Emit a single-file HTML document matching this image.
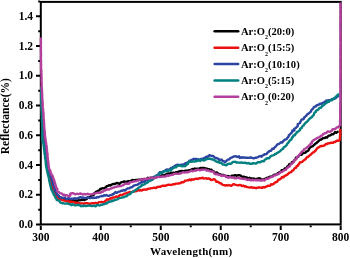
<!DOCTYPE html>
<html><head><meta charset="utf-8"><style>
html,body{margin:0;padding:0;background:#fff;width:350px;height:258px;overflow:hidden}
svg{display:block;filter:blur(0.3px)}
</style></head><body>
<svg width="350" height="258" viewBox="0 0 350 258">
<rect x="40.8" y="1.9" width="299.9" height="222.5" fill="none" stroke="#000" stroke-width="2"/>
<path d="M36.0,224.50H40 M38.2,209.63H40 M36.0,194.77H40 M38.2,179.90H40 M36.0,165.03H40 M38.2,150.17H40 M36.0,135.30H40 M38.2,120.43H40 M36.0,105.56H40 M38.2,90.70H40 M36.0,75.83H40 M38.2,60.96H40 M36.0,46.10H40 M38.2,31.23H40 M36.0,16.36H40 M38.2,1.50H40 M40.80,225.5V229.9 M70.79,225.5V227.3 M100.78,225.5V229.9 M130.77,225.5V227.3 M160.76,225.5V229.9 M190.75,225.5V227.3 M220.74,225.5V229.9 M250.73,225.5V227.3 M280.72,225.5V229.9 M310.71,225.5V227.3 M340.70,225.5V229.9" stroke="#000" stroke-width="2" fill="none"/>
<g font-family="Liberation Serif, serif" font-weight="bold" font-size="11.5" fill="#000"><text x="33" y="228.1" text-anchor="end">0.0</text><text x="33" y="198.4" text-anchor="end">0.2</text><text x="33" y="168.6" text-anchor="end">0.4</text><text x="33" y="138.9" text-anchor="end">0.6</text><text x="33" y="109.2" text-anchor="end">0.8</text><text x="33" y="79.4" text-anchor="end">1.0</text><text x="33" y="49.7" text-anchor="end">1.2</text><text x="33" y="20.0" text-anchor="end">1.4</text><text x="40.8" y="240.5" text-anchor="middle">300</text><text x="100.8" y="240.5" text-anchor="middle">400</text><text x="160.8" y="240.5" text-anchor="middle">500</text><text x="220.7" y="240.5" text-anchor="middle">600</text><text x="280.7" y="240.5" text-anchor="middle">700</text><text x="340.7" y="240.5" text-anchor="middle">800</text></g>
<text x="191.2" y="255" text-anchor="middle" font-family="Liberation Serif, serif" font-weight="bold" font-size="11" letter-spacing="0.3">Wavelength(nm)</text>
<text transform="translate(9.2,116.2) rotate(-90)" text-anchor="middle" font-family="Liberation Serif, serif" font-weight="bold" font-size="11.5">Reflectance(%)</text>
<path d="M41.2,95.0 41.5,96.2 41.3,97.4 41.5,98.6 41.5,99.8 41.6,101.0 41.8,102.2 41.7,103.4 41.8,104.6 41.4,105.8 41.7,107.0 41.8,108.2 41.9,109.4 41.9,110.6 42.0,111.8 42.0,113.0 42.0,114.2 42.1,115.4 42.0,116.6 42.2,117.8 42.2,119.0 42.2,120.2 42.3,121.4 42.5,122.6 42.5,123.8 42.6,125.0 42.5,126.2 42.8,127.4 42.9,128.5 43.0,129.8 43.2,130.9 43.3,132.1 43.4,133.3 43.6,134.5 43.8,135.7 43.9,136.9 44.3,138.0 44.2,139.3 44.5,140.4 44.7,141.6 44.7,142.8 44.8,144.0 45.1,145.2 45.3,146.4 45.3,147.6 45.5,148.8 45.5,150.0 45.7,151.2 45.9,152.4 45.9,153.6 46.2,154.7 46.4,155.9 46.4,157.1 46.5,158.3 46.8,159.5 47.0,160.7 47.0,161.9 47.4,163.1 47.3,164.3 47.5,165.5 47.9,166.6 48.0,167.8 48.3,169.0 48.4,170.2 48.9,171.3 49.1,172.5 49.3,173.7 49.7,174.8 50.3,175.9 50.6,177.0 50.9,178.2 51.3,179.3 51.5,180.5 52.1,181.6 52.2,182.8 52.7,183.9 52.8,185.2 53.2,186.3 53.6,187.4 54.1,188.5 54.3,189.7 54.8,190.8 55.1,192.0 55.5,193.2 56.3,194.1 57.3,194.8 58.2,195.6 59.1,196.4 59.5,197.7 61.1,197.6 61.9,198.5 62.9,199.1 64.0,199.8 65.2,200.1 66.4,199.5 67.6,199.4 68.8,200.1 70.0,200.6 71.2,200.5 72.4,200.4 73.6,200.3 74.8,200.7 76.0,200.5 77.2,200.9 78.3,200.2 79.6,200.4 80.7,200.1 81.9,200.1 83.1,199.7 84.5,200.1 85.5,199.4 86.7,199.1 87.4,197.5 88.7,197.7 89.8,197.1 91.0,196.8 91.3,195.3 93.0,195.4 93.9,194.6 94.3,193.2 95.3,192.5 96.2,191.8 97.3,191.2 98.4,190.6 99.6,190.3 100.2,189.0 101.4,188.8 102.4,188.2 103.7,188.4 104.8,187.7 106.0,187.4 106.7,186.1 107.9,185.9 109.0,185.2 110.4,185.5 111.4,184.8 112.4,184.2 113.6,183.9 114.9,184.0 116.0,183.3 117.1,183.0 118.4,183.3 119.7,183.8 120.7,182.6 121.8,182.2 123.0,181.8 124.2,181.5 125.5,181.9 126.7,181.8 127.8,181.3 129.0,181.3 130.2,181.0 131.3,180.8 132.4,180.0 133.7,180.2 134.9,180.2 136.1,179.9 137.3,179.9 138.5,179.7 139.7,179.7 140.9,180.0 142.0,179.3 143.2,179.2 144.5,179.3 145.6,179.1 146.9,179.2 147.8,177.7 149.2,178.5 150.3,177.8 151.5,177.8 152.7,177.8 153.9,177.6 155.1,177.4 156.2,176.9 157.5,177.1 158.5,176.2 159.7,176.0 161.0,176.0 162.0,175.2 163.4,175.7 164.4,174.9 165.6,174.9 166.6,173.9 167.7,173.6 169.0,173.5 170.2,173.5 171.3,172.9 172.5,173.0 173.7,172.7 175.0,173.1 176.0,172.1 177.3,172.5 178.4,171.7 179.5,171.3 180.7,171.2 181.9,170.9 183.1,171.1 184.4,171.2 185.5,170.7 186.7,170.7 188.0,170.8 189.1,170.1 190.3,169.9 191.4,169.6 192.5,168.9 193.8,169.5 194.9,168.5 196.2,169.1 197.3,168.7 198.6,168.9 199.7,168.3 200.9,167.9 202.1,168.2 203.3,167.8 204.5,168.1 205.7,168.4 206.8,168.7 208.0,169.1 209.2,169.3 210.2,170.0 211.6,169.8 212.4,171.0 213.6,171.1 214.4,172.4 215.5,172.9 217.0,172.4 217.8,173.5 218.9,173.9 220.2,174.1 221.1,175.0 222.4,175.0 223.6,174.9 224.6,175.7 225.8,176.0 227.0,176.3 228.2,176.0 229.4,176.6 230.6,176.6 231.7,175.7 232.9,175.6 234.1,175.5 235.2,175.1 236.5,175.8 237.6,175.3 238.9,175.1 240.1,175.4 241.2,176.0 242.1,177.1 243.5,176.6 244.6,177.0 245.8,177.4 247.0,177.5 248.0,178.5 249.4,177.8 250.4,178.5 251.7,178.5 252.8,178.9 254.1,178.5 255.2,179.6 256.4,178.9 257.6,178.8 258.8,178.3 260.1,178.4 261.0,179.3 262.2,179.6 263.4,179.2 264.6,179.0 265.7,178.5 266.8,177.9 268.0,177.7 269.1,177.2 270.1,176.6 271.4,176.4 272.5,176.1 273.5,175.3 274.5,174.6 275.8,174.5 277.0,174.3 277.8,173.1 278.9,172.6 279.9,172.0 281.2,171.8 281.6,170.2 283.0,170.2 284.2,169.7 284.7,168.4 286.2,168.3 286.9,167.3 287.6,166.3 288.6,165.7 289.1,164.4 290.2,163.9 291.7,163.7 291.9,162.2 293.4,162.0 293.9,160.7 295.0,160.2 295.6,159.1 295.9,157.7 297.2,157.3 298.3,156.6 298.9,155.5 299.9,154.8 301.3,154.8 302.2,154.0 303.1,153.1 304.3,152.9 305.6,152.6 306.3,151.5 307.5,151.1 308.5,150.4 309.0,149.2 309.6,148.1 310.5,147.2 311.6,146.7 312.8,146.2 313.6,145.3 314.6,144.6 315.3,143.6 316.4,143.1 317.2,142.2 318.2,141.5 319.0,140.6 320.0,139.8 321.2,139.5 322.2,138.7 323.2,138.1 324.6,138.1 325.5,137.3 327.0,137.7 327.8,136.5 328.7,135.6 330.0,135.5 331.0,134.9 332.0,134.1 333.3,134.3 334.2,133.2 335.0,132.1 336.6,132.8 337.5,131.8 338.6,131.4" stroke="#000000" stroke-width="2.4" fill="none" stroke-linejoin="round"/>
<path d="M41.2,95.0 41.3,96.2 41.2,97.4 41.4,98.6 41.4,99.8 41.3,101.0 41.5,102.2 41.5,103.4 41.6,104.6 41.5,105.8 41.7,107.0 41.7,108.2 41.7,109.4 41.6,110.6 41.9,111.8 42.0,113.0 41.9,114.2 42.0,115.4 42.0,116.6 42.1,117.8 42.1,119.0 42.3,120.2 42.3,121.4 42.6,122.6 42.5,123.8 42.4,125.0 42.6,126.2 42.7,127.4 42.9,128.6 42.8,129.8 43.0,131.0 43.2,132.1 43.2,133.3 43.3,134.5 43.4,135.7 43.6,136.9 43.6,138.1 43.8,139.3 44.0,140.5 44.2,141.7 44.3,142.9 44.3,144.1 44.6,145.3 44.6,146.5 44.7,147.7 44.8,148.9 45.0,150.0 45.2,151.2 45.5,152.4 45.4,153.6 45.5,154.8 45.7,156.0 45.8,157.2 46.0,158.4 46.2,159.6 46.4,160.8 46.3,162.0 46.6,163.2 46.8,164.3 47.0,165.5 47.1,166.7 47.2,167.9 47.5,169.1 47.8,170.2 47.9,171.5 48.2,172.6 48.5,173.8 48.9,174.9 49.3,176.1 49.7,177.2 50.0,178.3 50.5,179.4 50.6,180.7 51.0,181.8 51.2,183.0 51.8,184.1 51.9,185.3 52.1,186.5 52.6,187.6 52.9,188.7 53.2,189.9 53.7,191.0 54.6,191.9 55.1,193.0 55.3,194.3 55.8,195.4 56.7,196.2 57.4,197.2 58.2,198.2 58.9,199.2 60.3,199.2 61.4,199.5 62.4,200.4 63.7,200.3 64.8,200.7 65.9,201.1 67.1,201.4 68.4,201.1 69.4,202.0 70.8,201.4 71.8,202.4 73.1,201.9 74.2,202.2 75.3,203.0 76.6,202.8 77.8,202.8 78.9,203.1 80.1,203.5 81.3,203.4 82.5,203.4 83.7,203.8 84.9,203.2 86.1,203.2 87.3,203.2 88.5,203.7 89.7,203.6 90.9,203.7 92.1,203.2 93.3,203.1 94.5,203.3 95.7,202.8 96.9,203.1 98.1,202.8 99.2,202.1 100.4,202.1 101.6,201.8 102.9,202.2 104.2,202.2 105.1,200.9 106.2,200.5 107.0,199.3 108.5,199.7 109.5,199.1 110.5,198.3 111.9,198.5 112.7,197.4 114.0,197.5 115.2,197.2 116.2,196.4 117.6,196.8 118.8,196.4 119.6,195.2 120.7,194.8 122.1,195.1 123.1,194.4 124.1,193.6 125.4,193.5 126.5,193.1 127.6,192.6 128.8,192.4 129.9,192.0 131.1,192.2 132.3,191.9 133.4,191.4 134.6,191.4 135.8,191.3 137.0,190.9 138.1,190.1 139.4,190.6 140.5,190.1 141.8,190.5 142.9,189.8 144.1,189.7 145.3,189.4 146.5,189.7 147.6,189.0 148.8,188.6 150.0,188.6 151.1,188.1 152.3,188.1 153.5,187.8 154.7,187.7 156.0,188.1 157.0,187.0 158.2,187.0 159.4,186.6 160.6,186.7 161.7,185.9 162.9,185.8 164.1,185.8 165.3,185.8 166.5,185.3 167.6,184.9 168.8,184.6 170.0,184.9 171.3,185.0 172.4,184.5 173.6,184.3 174.8,184.2 175.9,183.6 177.1,183.6 178.3,183.5 179.5,183.4 180.7,183.0 181.6,182.2 183.0,182.3 184.1,181.9 184.9,180.7 186.1,180.6 187.3,180.3 188.5,180.3 189.5,179.4 190.9,180.2 192.0,179.3 193.2,179.7 194.4,179.1 195.5,178.8 196.7,178.7 198.0,179.0 199.1,178.3 200.3,178.3 201.5,178.2 202.7,177.7 203.9,178.6 205.1,178.4 206.3,178.3 207.4,178.9 208.7,178.4 209.9,178.9 210.8,179.9 212.0,180.0 213.5,179.3 214.8,179.4 215.7,180.6 216.4,181.8 217.7,181.8 218.8,182.4 219.7,183.2 221.0,183.3 221.9,184.2 222.9,184.9 224.1,185.2 225.3,185.5 226.5,185.2 227.7,185.5 228.9,185.0 230.1,185.5 231.4,185.9 232.5,184.7 233.6,184.1 234.9,184.6 236.1,184.9 237.3,185.2 238.4,185.4 239.7,184.9 240.9,185.1 241.9,186.1 243.3,185.5 244.3,186.5 245.6,186.3 246.7,186.9 247.8,187.2 249.0,187.4 250.2,187.6 251.5,187.1 252.6,187.7 253.8,187.7 255.0,187.8 256.2,188.2 257.4,187.6 258.6,187.5 259.8,187.4 261.0,187.7 262.3,187.8 263.3,187.0 264.6,187.5 265.7,186.9 266.9,186.4 267.9,185.7 269.2,185.9 270.4,185.6 271.0,184.3 272.6,184.5 273.7,183.9 274.4,182.9 275.4,182.2 276.8,182.1 277.5,181.2 278.2,179.9 279.4,179.5 280.4,178.9 281.4,178.3 282.0,177.0 283.6,177.2 284.3,176.2 285.5,175.7 286.4,175.0 287.6,174.6 288.4,173.6 289.2,172.7 290.5,172.4 291.6,171.8 292.1,170.6 293.4,170.3 294.0,169.2 294.7,168.1 296.1,167.8 296.4,166.4 297.7,166.0 298.1,164.7 299.1,164.1 299.6,162.8 300.6,162.1 302.0,162.0 302.9,161.2 303.8,160.4 304.7,159.6 305.8,159.1 306.4,157.8 307.4,157.1 308.5,156.6 309.2,155.7 310.2,154.9 311.2,154.2 312.0,153.4 312.8,152.5 314.2,152.1 314.8,151.1 315.8,150.4 316.4,149.3 317.2,148.4 318.1,147.5 319.3,147.2 320.1,146.1 321.4,146.0 322.7,146.0 323.9,145.7 324.9,145.1 325.8,144.0 327.1,144.1 328.1,143.2 329.4,143.4 330.5,142.7 331.7,142.7 333.0,142.9 334.0,142.0 335.3,142.1 336.2,141.0 337.3,140.5 338.7,140.7 339.9,139.9 339.8,138.4 340.0,137.2 340.0,136.0 340.1,134.8 340.3,133.6 340.3,132.4 340.2,131.2 340.2,130.0 340.3,128.8" stroke="#ec1010" stroke-width="2.4" fill="none" stroke-linejoin="round"/>
<path d="M41.2,95.0 41.3,96.2 41.4,97.4 41.6,98.6 41.4,99.8 41.7,101.0 41.7,102.2 41.7,103.4 42.0,104.6 41.8,105.8 41.9,107.0 41.9,108.2 41.9,109.4 42.0,110.6 42.2,111.8 42.1,113.0 42.1,114.2 42.2,115.4 42.4,116.6 42.5,117.8 42.3,119.0 42.4,120.2 42.5,121.4 42.8,122.5 42.6,123.8 43.0,124.9 42.9,126.1 42.8,127.4 43.2,128.5 43.3,129.7 43.5,130.9 43.5,132.1 43.9,133.3 43.9,134.5 44.1,135.7 44.4,136.8 44.4,138.1 44.8,139.2 44.9,140.4 45.0,141.6 45.2,142.8 45.3,144.0 45.4,145.2 45.7,146.4 45.9,147.5 46.0,148.7 46.1,149.9 46.2,151.1 46.4,152.3 46.5,153.5 46.7,154.7 46.9,155.9 46.9,157.1 47.2,158.3 47.3,159.5 47.3,160.7 47.7,161.8 47.7,163.0 48.0,164.2 48.1,165.4 48.4,166.6 48.5,167.8 48.7,168.9 48.9,170.1 49.1,171.3 49.5,172.5 49.8,173.6 50.2,174.7 50.6,175.9 51.1,177.0 51.6,178.1 51.8,179.3 52.0,180.5 52.4,181.6 52.8,182.7 52.9,183.9 53.4,185.1 53.8,186.2 54.2,187.3 54.6,188.5 54.9,189.6 55.1,190.8 55.8,191.8 56.5,192.8 56.9,194.0 57.4,195.0 58.5,195.5 59.1,196.7 60.1,197.4 61.3,197.6 62.5,198.0 63.8,197.6 65.0,197.7 66.0,198.9 67.2,199.0 68.5,198.1 69.6,198.7 70.8,198.6 72.0,198.8 73.2,198.6 74.4,198.3 75.6,198.5 76.8,198.4 78.0,198.3 79.2,197.6 80.4,197.1 81.6,197.8 82.8,197.4 84.0,197.9 85.2,198.0 86.4,197.9 87.6,197.7 88.8,197.8 90.0,198.2 91.2,197.5 92.4,198.0 93.6,197.9 94.8,197.6 96.1,197.9 97.2,197.0 98.4,197.4 99.5,196.6 100.7,196.4 101.8,196.0 103.1,196.1 104.1,195.3 105.4,195.5 106.6,195.0 107.8,195.7 109.1,195.9 110.2,195.1 111.5,195.1 112.4,194.3 113.7,194.2 114.5,193.0 115.5,192.1 116.9,192.9 118.0,192.1 119.1,191.6 120.2,191.4 121.3,190.7 122.5,190.7 123.6,190.0 125.0,190.5 126.0,189.8 127.0,188.7 128.1,188.4 129.3,188.4 130.2,187.5 131.5,187.4 132.5,186.8 133.4,185.9 134.5,185.4 135.7,185.1 136.9,184.9 138.0,184.4 138.9,183.5 140.1,183.3 141.1,182.3 142.3,182.3 143.3,181.5 144.6,181.7 145.5,180.6 146.7,180.3 147.9,180.2 149.1,179.9 149.9,178.8 151.1,178.5 152.3,178.2 153.3,177.6 154.2,176.7 155.4,176.3 156.3,175.5 157.6,175.3 158.4,174.3 159.0,173.1 159.9,172.2 161.3,172.3 162.6,172.1 163.5,171.2 164.7,171.0 165.6,170.1 166.7,169.5 168.1,169.9 169.2,169.4 170.4,169.1 171.0,167.9 172.3,167.7 173.2,166.7 174.5,166.6 175.3,165.6 176.4,165.1 177.6,164.7 178.8,165.2 180.0,164.9 181.2,164.8 182.3,164.6 183.4,164.3 184.8,164.7 185.4,163.1 186.5,162.8 187.8,162.4 188.8,161.8 189.5,160.7 190.7,160.4 191.7,159.8 192.8,159.5 193.9,158.8 195.1,159.2 196.2,158.8 197.2,159.7 198.6,159.2 199.7,160.1 200.8,159.2 201.8,158.8 203.2,158.9 204.0,157.9 205.3,157.8 206.1,156.8 207.6,157.0 208.4,156.0 209.4,155.2 210.7,155.6 211.8,156.0 213.1,155.9 214.0,156.8 214.9,157.8 216.1,158.0 217.3,158.4 218.4,158.9 219.2,159.8 220.6,159.7 221.9,159.8 222.6,161.0 223.7,161.2 224.9,162.2 226.0,161.3 226.9,160.4 227.8,159.7 229.1,159.4 229.9,158.4 230.9,157.8 232.1,157.4 233.1,156.8 234.2,156.4 235.4,156.1 236.5,156.7 237.6,157.1 239.0,156.3 239.9,158.0 241.2,157.3 242.4,157.9 243.6,157.3 244.8,157.7 246.0,157.7 247.2,157.7 248.4,157.9 249.6,157.8 250.8,157.3 252.0,157.8 253.2,158.2 254.4,158.2 255.6,157.7 256.7,157.5 257.9,157.2 258.9,156.5 260.1,156.0 261.5,156.7 262.4,155.6 263.5,155.2 264.4,154.3 265.8,154.3 266.9,153.7 267.5,152.5 268.6,152.0 269.3,150.9 270.8,150.9 271.6,150.0 272.2,148.8 273.7,148.7 274.4,147.7 275.3,146.9 276.2,146.0 276.8,145.0 277.8,144.2 279.0,143.9 280.0,143.1 280.9,142.3 282.4,142.6 283.0,141.3 283.9,140.5 284.8,139.7 286.1,139.3 287.0,138.5 287.7,137.5 288.6,136.7 288.8,135.3 289.9,134.6 290.6,133.6 291.4,132.8 292.3,131.9 292.3,130.4 294.4,130.6 294.2,128.8 295.3,128.2 296.3,127.5 297.1,126.7 297.8,125.7 297.7,124.0 299.0,123.5 300.2,122.9 300.4,121.6 301.1,120.6 301.6,119.4 303.3,119.3 304.0,118.3 304.5,117.1 305.5,116.5 306.4,115.6 307.0,114.5 308.0,113.9 309.0,113.2 309.9,112.4 310.9,111.6 311.3,110.4 311.9,109.4 313.0,108.7 313.6,107.6 314.4,106.6 315.8,106.5 316.5,105.4 317.7,105.0 318.8,104.7 319.7,103.7 321.0,103.8 322.1,103.3 323.2,102.6 324.3,102.3 325.3,101.5 326.2,100.5 327.5,100.7 328.6,100.1 329.9,100.3 331.0,99.7 332.1,99.1 333.3,98.8 334.5,98.8 335.6,98.2 336.5,97.3 337.5,96.7 338.4,95.7 339.4,95.1" stroke="#2b45a0" stroke-width="2.4" fill="none" stroke-linejoin="round"/>
<path d="M41.2,87.0 41.2,88.2 41.2,89.4 41.3,90.6 41.3,91.8 41.3,93.0 41.2,94.2 41.1,95.4 41.1,96.6 41.3,97.8 41.4,99.0 41.2,100.2 41.3,101.4 41.5,102.6 41.3,103.8 41.4,105.0 41.4,106.2 41.5,107.4 41.5,108.6 41.6,109.8 41.8,111.0 41.7,112.2 41.8,113.4 41.7,114.6 42.0,115.8 42.0,117.0 41.9,118.2 41.9,119.4 41.9,120.6 42.0,121.8 42.3,123.0 42.2,124.2 42.3,125.4 42.2,126.6 42.5,127.8 42.3,129.0 42.3,130.2 42.4,131.4 42.3,132.6 42.2,133.8 42.3,135.0 42.3,136.2 42.3,137.4 42.4,138.6 42.5,139.8 42.6,141.0 42.8,142.2 43.3,143.2 43.6,144.4 43.6,145.6 43.9,146.8 43.9,148.0 44.0,149.2 44.3,150.4 44.4,151.6 44.5,152.8 44.6,154.0 45.0,155.1 45.1,156.3 45.0,157.5 45.2,158.7 45.6,159.9 45.6,161.1 45.7,162.3 45.9,163.5 45.9,164.7 46.1,165.9 46.3,167.1 46.6,168.2 46.8,169.4 47.0,170.6 47.4,171.7 47.5,172.9 47.8,174.1 48.1,175.3 48.4,176.4 48.8,177.6 49.0,178.8 49.1,180.0 49.4,181.1 49.6,182.3 49.9,183.5 50.1,184.6 50.5,185.8 50.8,186.9 51.0,188.1 51.3,189.3 51.8,190.4 52.7,191.3 52.8,192.6 53.7,193.5 53.7,194.8 54.7,195.6 55.1,196.8 55.6,197.9 56.4,198.8 56.8,200.0 58.2,200.3 59.4,200.7 59.9,202.2 60.9,202.8 62.1,203.2 63.3,203.2 64.5,203.6 65.7,203.6 67.0,203.3 68.1,203.7 69.3,204.3 70.5,204.2 71.5,205.2 72.9,204.2 74.0,204.8 75.2,205.5 76.4,205.0 77.6,205.0 78.8,205.0 80.0,205.4 81.1,206.2 82.4,205.9 83.6,206.0 84.8,205.6 86.0,206.1 87.2,205.8 88.4,205.5 89.6,205.6 90.8,205.8 92.0,206.1 93.2,205.7 94.4,205.8 95.6,206.3 96.7,205.2 97.9,204.9 99.2,205.5 100.4,205.1 101.5,204.7 102.7,204.6 103.8,204.1 105.0,204.0 106.1,203.3 107.3,203.2 108.2,202.1 109.3,201.7 110.6,201.6 111.6,201.0 112.9,201.0 114.0,200.4 115.1,199.9 116.3,199.8 117.4,199.2 118.4,198.5 119.5,198.2 120.7,197.9 121.8,197.6 123.0,197.3 124.2,197.0 125.3,196.4 126.5,196.2 127.5,195.4 128.3,194.4 129.7,194.3 130.6,193.6 131.3,192.4 132.5,192.0 133.6,191.6 134.5,190.7 135.6,190.2 136.5,189.4 137.5,188.8 138.3,187.8 139.4,187.4 140.3,186.5 141.5,186.1 142.0,184.8 143.4,184.7 144.6,184.3 145.5,183.6 146.5,182.8 147.7,182.5 148.5,181.5 149.6,180.9 150.7,180.5 151.7,179.9 152.9,179.5 153.5,178.3 154.9,178.1 155.3,176.7 156.4,176.2 157.5,175.6 158.7,175.2 159.3,174.0 160.1,172.9 161.6,173.1 162.6,172.5 163.6,171.7 164.7,171.2 165.9,171.0 167.2,171.0 168.4,171.0 169.3,169.9 171.0,170.6 171.6,169.3 172.5,168.4 173.6,168.0 174.6,167.2 176.0,167.4 176.8,166.5 177.8,165.6 179.0,165.6 180.2,165.8 181.4,166.1 182.6,166.4 183.7,165.8 185.1,166.3 186.0,165.3 186.9,164.5 188.0,163.9 188.1,162.3 189.4,161.8 190.7,161.8 191.8,161.5 193.0,161.4 194.2,161.6 195.4,161.2 196.6,161.2 197.7,160.6 198.9,160.2 200.2,161.1 201.3,160.1 202.5,160.0 203.8,160.5 204.9,160.1 206.0,159.3 207.2,159.0 208.4,158.9 209.6,158.5 210.7,159.1 211.9,159.2 213.0,159.6 214.1,160.2 215.2,160.7 216.1,161.5 217.2,162.0 218.8,161.5 219.4,162.9 220.8,162.8 221.9,163.3 222.6,164.5 223.9,164.5 225.0,164.9 226.3,165.3 227.3,164.3 228.4,163.8 229.6,163.8 230.9,163.7 231.9,163.0 232.8,161.9 234.1,161.9 235.3,161.8 236.5,162.6 237.6,162.4 238.8,162.6 240.0,162.8 241.3,162.4 242.4,162.8 243.6,162.9 244.9,162.6 246.0,163.0 247.2,163.4 248.5,162.9 249.6,163.7 250.8,163.7 252.0,163.8 253.2,163.1 254.4,163.3 255.7,163.6 256.8,163.1 257.8,162.2 259.1,162.2 260.3,162.2 261.4,161.4 262.5,161.1 264.0,161.3 264.6,159.9 265.7,159.3 266.6,158.5 267.7,158.1 269.1,158.2 269.9,157.1 270.8,156.2 271.8,155.6 273.0,155.3 274.2,154.9 275.0,153.9 276.3,153.7 277.1,152.8 278.3,152.4 279.3,151.8 280.3,151.1 281.1,150.1 282.0,149.4 283.1,148.8 283.5,147.5 284.7,146.9 285.6,146.1 286.5,145.4 287.0,144.2 287.7,143.3 288.6,142.4 289.1,141.3 290.0,140.5 291.0,139.7 291.7,138.7 292.1,137.5 293.1,136.7 293.4,135.4 294.9,135.2 295.4,134.0 296.4,133.3 296.9,132.1 298.1,131.6 299.0,130.8 300.0,130.1 300.2,128.7 301.6,128.2 302.0,127.1 302.6,126.0 303.7,125.4 304.3,124.3 305.1,123.4 305.9,122.5 307.0,121.8 307.8,120.9 308.6,120.0 309.2,119.0 310.2,118.3 311.2,117.6 312.3,116.9 312.7,115.7 313.8,115.0 314.1,113.8 314.5,112.6 315.8,112.0 316.1,110.7 317.3,110.2 318.3,109.6 318.9,108.4 319.9,107.7 321.3,107.6 321.8,106.3 322.8,105.6 323.9,105.0 324.7,104.1 325.6,103.4 326.7,102.8 327.2,101.3 328.9,101.9 329.6,100.6 330.7,100.2 332.1,100.2 333.0,99.4 333.7,98.3 334.9,98.0 335.6,96.8 336.6,96.2 337.3,95.2 338.3,94.5 339.4,94.0" stroke="#008080" stroke-width="2.4" fill="none" stroke-linejoin="round"/>
<path d="M40.9,37.6 40.9,38.8 40.8,40.0 40.9,41.2 41.0,42.4 40.9,43.6 40.8,44.8 40.9,46.0 40.9,47.2 40.9,48.4 40.9,49.6 40.9,50.8 40.9,52.0 41.0,53.2 41.0,54.4 41.0,55.6 40.9,56.8 40.9,58.0 40.9,59.2 41.0,60.4 41.1,61.6 41.0,62.8 41.0,64.0 41.2,65.2 41.0,66.4 41.1,67.6 41.0,68.8 41.3,70.0 41.4,71.2 41.2,72.4 41.5,73.6 41.4,74.8 41.5,76.0 41.5,77.2 41.6,78.4 41.5,79.6 41.5,80.8 41.6,82.0 41.6,83.2 41.7,84.4 41.6,85.6 41.7,86.8 41.7,88.0 42.0,89.2 41.9,90.4 42.1,91.6 42.0,92.8 42.1,94.0 42.2,95.2 42.2,96.4 42.2,97.6 42.3,98.8 42.3,100.0 42.6,101.2 42.6,102.4 42.7,103.6 42.7,104.8 42.7,106.0 42.8,107.2 43.0,108.4 43.1,109.5 43.1,110.8 43.2,111.9 43.5,113.1 43.5,114.3 43.5,115.5 43.6,116.7 43.5,117.9 43.7,119.1 43.9,120.3 44.0,121.5 43.9,122.7 44.2,123.9 44.1,125.1 44.2,126.3 44.2,127.5 44.4,128.7 44.6,129.9 44.6,131.1 44.8,132.3 44.8,133.5 45.0,134.7 44.9,135.9 45.2,137.1 45.3,138.3 45.5,139.4 45.7,140.6 45.9,141.8 46.1,143.0 46.2,144.2 46.5,145.4 46.7,146.6 46.6,147.8 46.9,148.9 47.0,150.1 47.0,151.3 47.1,152.5 47.6,153.7 47.5,154.9 47.5,156.1 47.6,157.3 47.9,158.5 47.8,159.7 48.2,160.9 48.3,162.1 48.4,163.3 48.5,164.5 48.6,165.7 48.8,166.8 49.1,168.0 49.2,169.3 50.1,170.2 50.5,171.3 50.4,172.7 51.4,173.6 51.5,174.8 52.5,175.7 52.9,176.8 53.2,178.0 53.7,179.1 54.1,180.2 54.5,181.4 54.8,182.5 55.1,183.7 55.5,184.8 55.8,186.0 56.1,187.1 56.6,188.2 57.5,189.2 57.0,190.8 57.9,191.7 59.1,192.3 59.9,193.1 61.2,193.4 62.3,193.9 63.1,194.9 64.4,194.7 65.4,195.7 66.6,195.2 67.8,195.7 69.2,196.4 70.4,195.4 70.1,193.8 71.0,193.4 72.1,193.1 73.3,193.3 74.4,193.8 75.6,194.3 76.8,193.7 78.0,194.1 79.2,193.9 80.4,193.5 81.6,193.9 82.8,194.5 84.0,194.0 85.2,194.2 86.4,194.3 87.6,193.7 88.8,194.4 90.0,194.4 91.2,194.4 92.4,194.2 93.6,193.6 94.8,193.4 96.0,193.2 97.1,192.9 98.3,192.7 99.6,192.9 100.8,192.7 101.7,191.6 103.0,191.7 103.9,190.5 105.1,190.5 106.2,189.9 107.3,189.3 108.6,189.5 109.7,189.1 110.8,188.6 111.9,188.2 113.0,187.6 114.2,187.5 115.3,187.0 116.6,186.9 117.6,186.1 118.9,186.3 120.1,186.1 121.3,186.0 122.4,185.5 123.5,184.9 124.5,184.2 125.5,183.5 126.9,183.7 128.2,183.9 129.3,183.6 130.1,181.9 131.4,182.1 132.6,181.9 133.7,181.3 134.9,181.4 136.1,181.1 137.2,180.6 138.4,180.5 139.5,179.7 140.7,179.7 141.9,179.4 143.2,179.8 144.2,178.6 145.5,178.9 146.7,179.0 147.8,178.5 149.1,178.6 150.1,177.8 151.4,178.0 152.6,178.0 153.9,178.2 155.0,177.5 156.2,177.6 157.3,176.9 158.5,176.8 159.7,177.1 160.9,176.6 162.1,176.7 163.3,176.3 164.5,176.6 165.7,176.5 166.8,175.3 168.1,176.0 169.2,175.4 170.4,175.2 171.5,174.8 172.8,174.9 173.8,174.0 175.0,173.9 176.2,173.7 177.5,173.9 178.7,173.9 179.9,173.6 181.0,173.3 182.1,172.7 183.2,172.1 184.6,172.6 185.7,172.3 186.9,172.2 188.2,172.3 189.2,171.6 190.4,171.4 191.5,170.4 192.8,171.2 194.0,170.8 195.1,170.3 196.4,170.5 197.4,169.8 198.7,169.7 200.0,170.4 201.1,169.8 202.3,169.7 203.5,169.6 204.6,169.6 205.8,169.6 206.7,170.7 208.1,170.3 209.1,171.0 210.4,171.2 211.5,171.6 212.9,171.5 213.9,172.2 214.5,173.8 215.6,174.2 217.0,174.0 218.1,174.5 219.1,175.1 220.4,174.9 221.4,176.1 222.8,175.4 223.9,175.8 225.2,175.4 226.1,177.1 227.4,176.9 228.4,177.7 229.8,176.9 230.9,177.5 232.1,177.4 233.3,177.5 234.5,178.2 235.7,178.3 236.9,178.1 238.1,177.6 239.2,178.2 240.4,178.6 241.6,178.6 242.8,178.8 244.0,179.0 245.2,178.7 246.3,179.4 247.4,180.1 248.8,179.4 249.9,180.0 251.0,180.4 252.3,179.8 253.5,180.4 254.7,179.9 255.9,180.3 257.1,180.0 258.3,180.2 259.5,180.3 260.7,180.5 261.8,180.6 262.8,179.5 264.3,180.6 265.3,179.6 266.3,178.9 267.5,178.7 268.7,178.5 269.6,177.6 270.8,177.3 271.8,176.7 273.1,176.5 273.9,175.5 275.2,175.4 276.3,174.9 277.3,174.2 278.6,174.1 279.5,173.2 280.3,172.2 281.6,172.1 282.6,171.4 283.5,170.7 284.6,170.1 286.0,169.9 286.5,168.6 287.5,167.9 288.3,167.0 289.5,166.6 290.1,165.4 290.8,164.4 291.5,163.5 292.8,163.0 293.6,162.2 293.8,160.7 294.8,160.0 295.9,159.3 296.8,158.5 296.9,157.0 297.9,156.3 299.0,155.7 299.5,154.5 300.3,153.6 301.1,152.7 301.7,151.6 302.8,151.1 303.7,150.3 304.1,149.0 305.4,148.5 306.5,148.0 307.3,147.1 308.4,146.6 309.0,145.4 310.4,145.1 310.5,143.7 311.8,143.1 311.9,141.7 312.8,140.8 313.7,140.1 314.8,139.6 315.8,138.9 316.8,138.2 317.9,137.6 319.1,137.3 320.1,136.7 320.9,135.7 322.2,135.6 322.9,134.3 323.9,133.7 325.0,133.1 326.3,133.1 327.1,131.9 328.2,131.4 329.7,131.8 330.8,131.4 331.8,130.7 332.5,129.3 333.8,129.3 335.0,129.0 336.0,128.2 336.9,127.3 338.2,127.4 338.8,126.4 339.4,125.6 340.3,124.8 340.2,123.6 340.0,122.3 340.0,121.1 340.2,120.0 340.1,118.8 340.3,117.6 340.2,116.4 340.2,115.2 340.3,114.0 340.2,112.8 340.1,111.6 340.2,110.4 340.2,109.2 340.3,108.0 340.3,106.8 340.3,105.6 340.4,104.4 340.3,103.2 340.5,102.0 340.5,100.8 340.4,99.6 340.4,98.4 340.5,97.2 340.4,96.0 340.4,94.8 340.4,93.6 340.3,92.4 340.3,91.2 340.5,90.0 340.5,88.8 340.3,87.6 340.4,86.4 340.4,85.2 340.4,84.0 340.4,82.8 340.4,81.6 340.3,80.4 340.4,79.2 340.4,78.0 340.6,76.8 340.5,75.6 340.4,74.4 340.5,73.2 340.6,72.0 340.6,70.8 340.5,69.6 340.5,68.4 340.4,67.2 340.5,66.0 340.5,64.8 340.4,63.6 340.6,62.4 340.3,61.2 340.5,60.0 340.5,58.8 340.5,57.6 340.7,56.4 340.4,55.2 340.4,54.0 340.5,52.8 340.5,51.6 340.5,50.4 340.4,49.2 340.6,48.0 340.4,46.8 340.5,45.6 340.6,44.4 340.7,43.2 340.6,42.0 340.4,40.8 340.4,39.6 340.4,38.4 340.4,37.2 340.5,36.0 340.6,34.8 340.5,33.6 340.5,32.4 340.5,31.2 340.4,30.0 340.6,28.8 340.3,27.6 340.5,26.4 340.4,25.2 340.4,24.0 340.4,22.8 340.6,21.6 340.5,20.4 340.8,19.2 340.4,18.0 340.4,16.8 340.6,15.6 340.6,14.4 340.5,13.2 340.3,12.0 340.6,10.8 340.6,9.6 340.5,8.4 340.4,7.2 340.6,6.0 340.4,4.8 340.5,3.6 340.5,2.4" stroke="#b4409e" stroke-width="2.4" fill="none" stroke-linejoin="round"/>
<path d="M214.6,31.3H238.2" stroke="#000000" stroke-width="2.5" stroke-linecap="round"/><text x="241" y="34.9" font-family="Liberation Serif, serif" font-weight="bold" font-size="10.55">Ar:O<tspan font-size="6" dy="4.2">2</tspan><tspan dy="-4.2">(20:0)</tspan></text><path d="M214.6,47.7H238.2" stroke="#ec1010" stroke-width="2.5" stroke-linecap="round"/><text x="241" y="51.3" font-family="Liberation Serif, serif" font-weight="bold" font-size="10.55">Ar:O<tspan font-size="6" dy="4.2">2</tspan><tspan dy="-4.2">(15:5)</tspan></text><path d="M214.6,64.0H238.2" stroke="#2b45a0" stroke-width="2.5" stroke-linecap="round"/><text x="241" y="67.6" font-family="Liberation Serif, serif" font-weight="bold" font-size="10.55">Ar:O<tspan font-size="6" dy="4.2">2</tspan><tspan dy="-4.2">(10:10)</tspan></text><path d="M214.6,80.5H238.2" stroke="#008080" stroke-width="2.5" stroke-linecap="round"/><text x="241" y="84.1" font-family="Liberation Serif, serif" font-weight="bold" font-size="10.55">Ar:O<tspan font-size="6" dy="4.2">2</tspan><tspan dy="-4.2">(5:15)</tspan></text><path d="M214.6,96.7H238.2" stroke="#b4409e" stroke-width="2.5" stroke-linecap="round"/><text x="241" y="100.3" font-family="Liberation Serif, serif" font-weight="bold" font-size="10.55">Ar:O<tspan font-size="6" dy="4.2">2</tspan><tspan dy="-4.2">(0:20)</tspan></text>
</svg>
</body></html>
